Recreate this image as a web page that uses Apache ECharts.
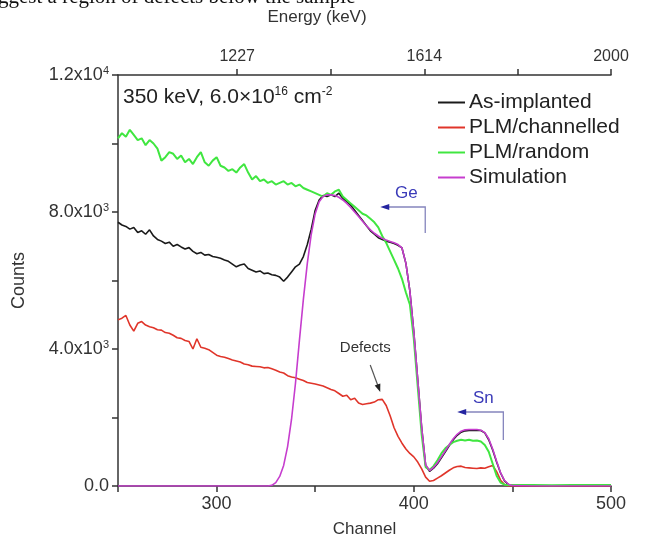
<!DOCTYPE html>
<html><head><meta charset="utf-8">
<script src="https://cdn.jsdelivr.net/npm/echarts@6/dist/echarts.min.js"></script>
<style>html,body{margin:0;padding:0;background:#fff}#c{width:652px;height:544px}</style>
</head><body><div id="c"></div>
<script>
// ---- data ----
const channels = [
  250,252,254,256,258,260,262,264,266,268,270,272,274,276,278,280,282,284,286,288,
  290,292,294,296,298,300,302,304,306,308,310,312,314,316,318,320,322,324,326,328,
  330,332,334,336,338,340,342,344,346,348,350,352,354,356,358,360,362,364,366,368,
  370,372,374,376,378,380,382,384,386,388,390,392,394,396,398,400,402,404,406,408,
  410,412,414,416,418,420,422,424,426,428,430,432,434,436,438,440,442,444,446,448,
  450,460,470,480,490,500
];
const asImplanted = [
  7700,7620,7580,7500,7550, 7400,7450,7350,7480,7300, 7200,7150,7080,7120,7000, 7050,6980,6920,6960,6850,
  6780,6820,6740,6760,6700, 6680,6650,6600,6560,6480, 6400,6450,6480,6350,6300, 6250,6280,6200,6220,6170,
  6150,6100,5980,6100,6250, 6400,6480,6700,7050,7500, 8050,8350,8480,8450,8500, 8450,8550,8400,8300,8200,
  8050,7900,7750,7600,7450, 7350,7250,7200,7150,7120, 7080,7030,6950,6500,5700, 4500,3100,1700,600,430,
  520,650,820,1000,1180, 1350,1480,1570,1610,1620, 1630,1620,1620,1550,1350, 1050,700,380,150,40,
  0,0,0,0,0,0
];
const plmChannelled = [
  4850,4900,4980,4700,4520, 4750,4800,4700,4650,4620, 4560,4550,4480,4460,4400, 4330,4310,4250,4220,4000,
  4300,4050,4020,3980,3900, 3820,3780,3760,3720,3680, 3650,3620,3560,3540,3500, 3490,3480,3450,3460,3420,
  3380,3330,3300,3220,3180, 3160,3120,3080,3020,3000, 2980,2950,2920,2870,2820, 2780,2700,2620,2650,2520,
  2560,2420,2380,2400,2420, 2450,2520,2530,2350,2050, 1700,1450,1250,1080,950, 850,700,500,260,140,
  160,230,300,380,460, 530,570,580,540,530, 520,510,530,520,560, 600,420,170,40,0,
  0,0,0,0,0,0
];
const plmRandom = [
  10150,10300,10200,10400,10250, 10100,10150,9950,10100,10000, 9850,9500,9600,9750,9700, 9550,9650,9450,9550,9400,
  9600,9750,9450,9350,9500, 9600,9350,9300,9200,9250, 9150,9300,9400,9150,8950, 9050,8900,8950,8850,8900,
  8800,8850,8900,8800,8850, 8750,8800,8700,8650,8600, 8550,8500,8450,8550,8500, 8600,8650,8450,8350,8250,
  8150,8050,7950,7900,7800, 7700,7550,7300,7100,6850, 6600,6350,6050,5650,5300, 4300,2900,1500,550,470,
  580,750,950,1100,1200, 1280,1320,1350,1330,1350, 1320,1330,1300,1200,1000, 650,300,100,40,30,
  30,30,25,30,30,30
];
const simulation = [
  0,0,0,0,0, 0,0,0,0,0, 0,0,0,0,0, 0,0,0,0,0,
  0,0,0,0,0, 0,0,0,0,0, 0,0,0,0,0, 0,0,0,0,20,
  100,280,600,1150,1950, 3000,4250,5450,6500,7350, 7950,8300,8450,8500,8500, 8480,8430,8350,8250,8130,
  8000,7870,7730,7600,7480, 7380,7300,7230,7180,7140, 7100,7050,6950,6500,5700, 4500,3100,1700,620,450,
  540,680,850,1030,1210, 1380,1510,1600,1640,1650, 1650,1650,1630,1560,1380, 1080,720,390,160,50,
  10,0,0,0,0,0
];
const seriesNames = ['As-implanted','PLM/channelled','PLM/random','Simulation'];
const channelTicks = [300,400,500];
const energyTicks = [1227,1614,2000];
const energyMinorTicks = [1227,1420.5,1614,1807,2000];
const countTickLabels = {0:['0.0',''],4000:['4.0x10','3'],8000:['8.0x10','3'],12000:['1.2x10','4']};

// ---- chart ----
const FONT = '"Liberation Sans", Arial, sans-serif';
const AX = '#333';
const chart = echarts.init(document.getElementById('c'));
const pairs = arr => channels.map((c,i)=>[c,arr[i]]);
const colors = ['#1a1a1a','#e0352a','#40e640','#c63dce'];
const dataSets = [asImplanted, plmChannelled, plmRandom, simulation];

const axisBase = {
  axisLine:{show:true,lineStyle:{color:AX,width:1.5}},
  axisTick:{show:true,inside:false,length:6,lineStyle:{color:AX,width:1.5}},
  splitLine:{show:false},
  axisLabel:{color:'#333',fontFamily:FONT,fontSize:18}
};

chart.setOption({
  animation:false,
  backgroundColor:'#fff',
  textStyle:{fontFamily:FONT},
  grid:{left:118,right:41,top:75,bottom:58,containLabel:false},
  legend:{
    orient:'vertical', left:433, top:87, icon:'rect', itemWidth:27, itemHeight:2, itemGap:4,
    textStyle:{fontFamily:FONT,fontSize:21,color:'#222',padding:[0,0,0,-1]},
    data:seriesNames
  },
  xAxis:[
    Object.assign({}, axisBase, {
      type:'value', min:250, max:500, interval:50, position:'bottom',
      name:'Channel', nameLocation:'middle', nameGap:35,
      nameTextStyle:{color:'#333',fontFamily:FONT,fontSize:17},
      axisLabel:Object.assign({}, axisBase.axisLabel, {margin:9,
        formatter:v=>channelTicks.includes(v)?String(v):''})
    }),
    Object.assign({}, axisBase, {
      type:'value', min:980.5, max:2000, position:'top',
      axisTick:{show:true,length:6,lineStyle:{color:AX,width:1.5},customValues:energyMinorTicks},
      axisLabel:Object.assign({}, axisBase.axisLabel, {margin:10,fontSize:16,customValues:energyTicks,
        formatter:v=>String(v)})
    })
  ],
  yAxis:[Object.assign({}, axisBase, {
    type:'value', min:0, max:12000, interval:2000,
    name:'Counts', nameLocation:'middle', nameGap:90,
    nameTextStyle:{color:'#333',fontFamily:FONT,fontSize:18},
    axisLabel:Object.assign({}, axisBase.axisLabel, {margin:9,
      formatter:v=>{const t=countTickLabels[v]; if(!t) return ''; return t[1]?'{m|'+t[0]+'}{s|'+t[1]+'}':'{m|'+t[0]+'}';},
      rich:{m:{fontSize:18,color:'#333',fontFamily:FONT},s:{fontSize:11,color:'#333',fontFamily:FONT,padding:[0,0,9,0]}}
    })
  })],
  series: seriesNames.map((n,i)=>({
    name:n, type:'line', xAxisIndex:0, yAxisIndex:0, data:pairs(dataSets[i]),
    showSymbol:false, symbol:'none', smooth:false,
    lineStyle:{color:colors[i],width:i===2?2:1.6}, itemStyle:{color:colors[i]}, z:2+i
  }))
});

// ---- annotations (placed in data space) ----
const P = (c,v)=>chart.convertToPixel({xAxisIndex:0,yAxisIndex:0},[c,v]);
function bracket(x0,x1,yTop,yBot){
  const a=P(x0,yTop), b=P(x1,yTop), c=P(x1,yBot);
  return [
    {type:'polyline',shape:{points:[[a[0]+6,a[1]],b,c]},style:{stroke:'#8585bd',lineWidth:1.3,fill:null},z:20},
    {type:'polygon',shape:{points:[[a[0],a[1]],[a[0]+9,a[1]-3],[a[0]+9,a[1]+3]]},style:{fill:'#2424a0'},z:21}
  ];
}
const ge = bracket(383,405.8,8146,7387);
const sn = bracket(422,445.4,2161,1343);
const geL = P(396.2,8555), snL = P(435.3,2569), defL = P(375.4,4029);
const dA = P(377.9,3533), dB = P(383,2745);
const ang = Math.atan2(dB[1]-dA[1], dB[0]-dA[0]);
const hl=8, hw=3;
const head = [
  [dB[0],dB[1]],
  [dB[0]-hl*Math.cos(ang)+hw*Math.sin(ang), dB[1]-hl*Math.sin(ang)-hw*Math.cos(ang)],
  [dB[0]-hl*Math.cos(ang)-hw*Math.sin(ang), dB[1]-hl*Math.sin(ang)+hw*Math.cos(ang)]
];
const corner = P(250,12000);
chart.setOption({graphic:[
  ...ge, ...sn,
  {type:'text',x:geL[0],y:geL[1],style:{text:'Ge',fill:'#3a3ab8',font:'17px '+FONT,align:'center',verticalAlign:'middle'},z:22},
  {type:'text',x:snL[0],y:snL[1],style:{text:'Sn',fill:'#3a3ab8',font:'17px '+FONT,align:'center',verticalAlign:'middle'},z:22},
  {type:'text',x:defL[0],y:defL[1],style:{text:'Defects',fill:'#333',font:'15px '+FONT,align:'center',verticalAlign:'middle'},z:22},
  {type:'line',shape:{x1:dA[0],y1:dA[1],x2:head[0][0]-hl*0.6*Math.cos(ang),y2:head[0][1]-hl*0.6*Math.sin(ang)},style:{stroke:'#555',lineWidth:1.2},z:22},
  {type:'polygon',shape:{points:head},style:{fill:'#222'},z:22},
  {type:'text',x:corner[0]+5,y:corner[1]+22,style:{
    text:'{m|350 keV, 6.0×10}{s|16}{m| cm}{s|-2}',
    rich:{m:{fontSize:21,fill:'#222',fontFamily:FONT},s:{fontSize:12,fill:'#222',fontFamily:FONT,padding:[0,0,10,0]}},
    verticalAlign:'middle'},z:22},
  {type:'text',x:317,y:17,style:{text:'Energy (keV)',fill:'#333',font:'17px '+FONT,align:'center',verticalAlign:'middle'},z:22},
  {type:'text',x:-2,y:-3,style:{text:'ggest a region of defects below the sample',fill:'#111',font:'21px "Liberation Serif", "Times New Roman", serif',verticalAlign:'middle'},z:22}
]});
</script>
</body></html>
